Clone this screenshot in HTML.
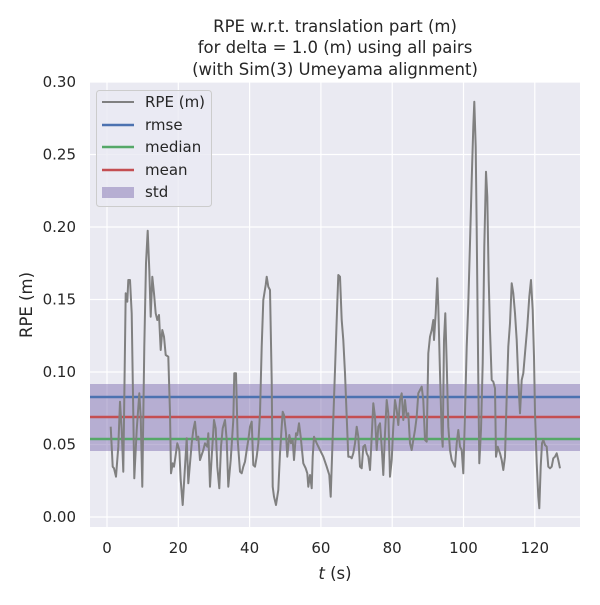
<!DOCTYPE html>
<html><head><style>body{margin:0;background:#fff}svg text{font-family:"DejaVu Sans","Liberation Sans",sans-serif;fill:#262626}</style></head>
<body>
<svg id="s" width="600" height="600" xmlns="http://www.w3.org/2000/svg">
<rect x="90" y="82" width="490" height="445" fill="#eaeaf2"/>
<g stroke="#fff" stroke-width="1.2">
<line x1="90" x2="580" y1="517" y2="517"/><line x1="90" x2="580" y1="444.5" y2="444.5"/><line x1="90" x2="580" y1="372" y2="372"/><line x1="90" x2="580" y1="299.5" y2="299.5"/><line x1="90" x2="580" y1="227" y2="227"/><line x1="90" x2="580" y1="154.5" y2="154.5"/><line x1="90" x2="580" y1="82" y2="82"/>
<line y1="82" y2="527" x1="107" x2="107"/><line y1="82" y2="527" x1="178.3" x2="178.3"/><line y1="82" y2="527" x1="249.6" x2="249.6"/><line y1="82" y2="527" x1="320.9" x2="320.9"/><line y1="82" y2="527" x1="392.2" x2="392.2"/><line y1="82" y2="527" x1="463.5" x2="463.5"/><line y1="82" y2="527" x1="534.8" x2="534.8"/>
</g>
<rect x="90" y="384" width="490" height="67" fill="#8172b2" fill-opacity="0.5"/>
<line x1="90" x2="580" y1="397" y2="397" stroke="#4c72b0" stroke-width="2.5"/>
<line x1="90" x2="580" y1="417" y2="417" stroke="#c44e52" stroke-width="2.5"/>
<line x1="90" x2="580" y1="439" y2="439" stroke="#55a868" stroke-width="2.5"/>
<polyline id="rpe" fill="none" stroke="#808080" stroke-width="2" stroke-linejoin="round"/>
<g font-size="15" text-anchor="end">
<text x="76" y="522">0.00</text><text x="76" y="449.5">0.05</text><text x="76" y="377">0.10</text><text x="76" y="304.5">0.15</text><text x="76" y="232">0.20</text><text x="76" y="159.5">0.25</text><text x="76" y="87">0.30</text>
</g>
<g font-size="15" text-anchor="middle">
<text x="107" y="553">0</text><text x="178.3" y="553">20</text><text x="249.6" y="553">40</text><text x="320.9" y="553">60</text><text x="392.2" y="553">80</text><text x="463.5" y="553">100</text><text x="534.8" y="553">120</text>
<text x="335" y="579" font-size="16.5"><tspan font-style="italic">t</tspan> (s)</text>
<text transform="translate(32,305) rotate(-90)" font-size="16.5">RPE (m)</text>
<text x="335" y="32" font-size="16.5">RPE w.r.t. translation part (m)</text>
<text x="335" y="53" font-size="16.5">for delta = 1.0 (m) using all pairs</text>
<text x="335" y="75" font-size="16.5">(with Sim(3) Umeyama alignment)</text>
</g>
<rect x="96.5" y="90.5" width="115" height="116" rx="3" fill="#eaeaf2" fill-opacity="0.8" stroke="#ccc"/>
<line x1="102" x2="134" y1="102" y2="102" stroke="#808080" stroke-width="2"/>
<line x1="102" x2="134" y1="125" y2="125" stroke="#4c72b0" stroke-width="2.5"/>
<line x1="102" x2="134" y1="147" y2="147" stroke="#55a868" stroke-width="2.5"/>
<line x1="102" x2="134" y1="170" y2="170" stroke="#c44e52" stroke-width="2.5"/>
<rect x="102" y="187" width="32" height="11" fill="#8172b2" fill-opacity="0.5"/>
<g font-size="15"><text x="145" y="107">RPE (m)</text><text x="145" y="130">rmse</text><text x="145" y="152">median</text><text x="145" y="175">mean</text><text x="145" y="197">std</text></g>
</svg>
<script>
var a=[[62,1040],[68,1160],[72,1165],[78,1190],[85,1100],[90,965],[95,1050],[100,1175],[107,640],[112,665],[115,600],[120,600],[125,700],[133,1195],[140,1050],[148,940],[152,1010],[157,1220],[163,800],[168,550],[173,452],[178,570],[182,710],[187,590],[192,640],[197,700],[202,720],[207,705],[212,810],[217,750],[222,770],[227,825],[235,830],[240,1000],[243,1180],[248,1150],[252,1160],[255,1140],[262,1090],[268,1110],[272,1200],[278,1275],[285,1160],[290,1075],[295,1210],[300,1150],[305,1090],[310,1050],[315,1025],[320,1080],[325,1070],[330,1140],[340,1110],[345,1090],[352,1100],[355,1060],[360,1220],[365,1130],[372,1020],[377,1045],[382,1160],[388,1225],[393,1100],[398,1045],[405,1020],[410,1080],[415,1220],[422,1140],[430,1020],[433,880],[438,880],[443,1080],[450,1175],[455,1180],[460,1160],[465,1145],[470,1110],[475,1080],[480,1040],[485,1025],[490,1155],[495,1160],[500,1130],[505,1090],[510,1000],[515,800],[520,660],[527,615],[530,590],[535,620],[540,630],[545,900],[548,1220],[552,1250],[558,1275],[565,1230],[570,1120],[575,1040],[578,995],[582,1005],[588,1060],[592,1130],[598,1065],[603,1090],[608,1080],[612,1140],[618,1060],[622,1065],[627,1030],[632,1070],[640,1150],[647,1165],[652,1180],[655,1220],[660,1185],[665,1225],[668,1130],[672,1070],[680,1090],[690,1110],[700,1130],[710,1160],[718,1185],[722,1250],[728,1070],[735,870],[740,720],[745,585]];
var b=[[25,585],[30,590],[35,720],[40,780],[45,880],[50,1010],[55,1130],[60,1130],[65,1135],[70,1120],[75,1090],[80,1040],[85,1070],[90,1160],[95,1165],[100,1100],[105,1095],[110,1120],[115,1130],[120,1170],[125,1070],[130,970],[135,1010],[140,1110],[145,1040],[150,1030],[155,1100],[160,1185],[165,1060],[170,960],[175,1000],[180,1190],[185,1140],[190,1040],[195,960],[200,990],[205,1035],[210,960],[215,940],[220,1020],[225,960],[230,1010],[235,1000],[240,1090],[245,1110],[250,1080],[255,1050],[260,1010],[265,940],[270,930],[275,920],[280,960],[285,1080],[290,1085],[295,820],[300,770],[305,750],[310,720],[312,780],[317,700],[322,595],[325,680],[330,880],[335,1060],[338,1100],[342,780],[346,700],[350,850],[355,1040],[360,1110],[365,1140],[370,1150],[375,1160],[380,1090],[385,1050],[390,1100],[395,1110],[400,1180],[405,1000],[410,800],[415,670],[420,490],[425,300],[430,140],[433,65],[437,200],[440,450],[445,900],[448,1150],[453,1050],[458,850],[463,500],[468,275],[472,350],[476,600],[480,750],[485,900],[490,905],[495,925],[498,1130],[503,1100],[510,1120],[515,1140],[520,1170],[525,1130],[530,950],[535,800],[540,730],[545,610],[550,640],[555,700],[560,780],[565,900],[570,1000],[575,900],[580,880],[585,820],[592,740],[598,650],[603,600],[608,690],[612,830],[615,1000],[620,1150],[625,1250],[628,1285],[632,1160],[636,1090],[640,1080],[645,1095],[650,1100],[655,1160],[660,1165],[665,1160],[670,1135],[675,1130],[680,1120],[685,1140],[690,1165]];
var p=[];a.forEach(function(q){p.push((90+q[0]/3).toFixed(1)+","+(80+q[1]/3).toFixed(1))});
b.forEach(function(q){p.push((330+q[0]/3).toFixed(1)+","+(80+q[1]/3).toFixed(1))});
document.getElementById("rpe").setAttribute("points",p.join(" "));
</script>
</body></html>
